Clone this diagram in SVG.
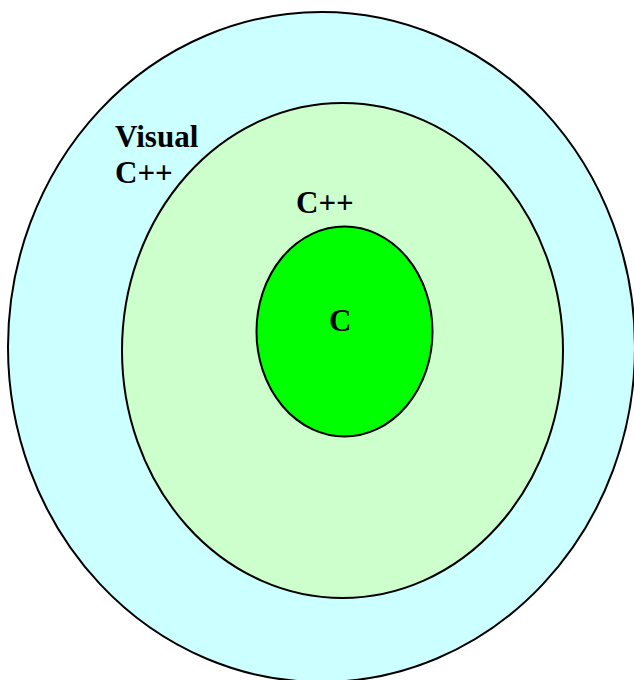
<svg xmlns="http://www.w3.org/2000/svg" width="634" height="680" viewBox="0 0 634 680">
<style>
.e{stroke:#000;stroke-width:2}
.t{font-family:"Liberation Serif","Times New Roman",serif;font-weight:bold;font-size:31px;fill:#000}
</style>
<rect width="634" height="680" fill="#fff"/>
<g id="visualcpp">
<ellipse class="e" cx="321.5" cy="347" rx="313.5" ry="335" fill="#CCFFFF"/>
<text class="t" x="115" y="147">Visual</text>
<text class="t" x="115" y="183">C++</text>
</g>
<g id="cpp">
<ellipse class="e" cx="342.5" cy="350.5" rx="220.5" ry="247.5" fill="#CCFFCC"/>
<text class="t" x="296" y="213">C++</text>
</g>
<g id="c">
<ellipse class="e" cx="344.5" cy="331.5" rx="88" ry="105" fill="#00FF00"/>
<text class="t" x="329" y="331">C</text>
</g>
<g id="connectors"/>
</svg>
